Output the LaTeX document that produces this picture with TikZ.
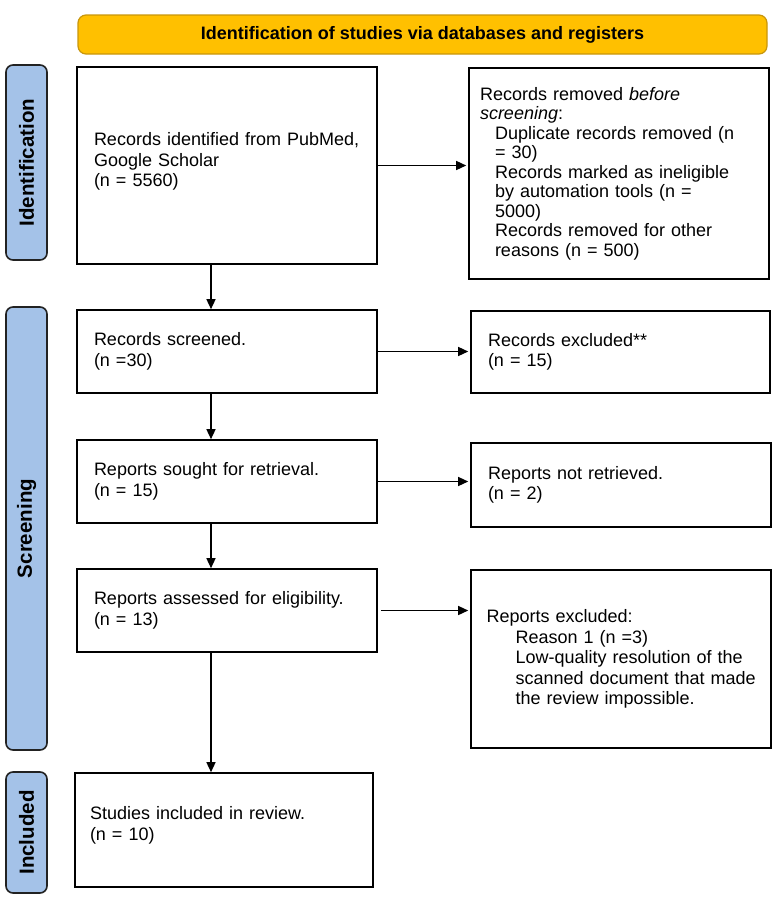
\documentclass[tikz,border=0pt]{standalone}
\usepackage{fontspec}
\setmainfont{Liberation Sans}
\usetikzlibrary{arrows.meta}
\definecolor{bannerfill}{HTML}{FFC000}
\definecolor{bannerdraw}{HTML}{C8960C}
\definecolor{sidefill}{HTML}{A4C2E8}
\definecolor{sidedraw}{HTML}{222222}
\newcommand{\indA}[1]{\mbox{\hspace*{15pt}#1}}
\newcommand{\indB}[1]{\mbox{\hspace*{29pt}#1}}
\begin{document}
\begin{tikzpicture}[x=1pt,y=-1pt,
  box/.style={draw=black, line width=1.6pt, align=left, inner ysep=0pt,
    font=\fontsize{18}{20.5}\selectfont},
  arr/.style={line width=1.4pt, -{Triangle[length=10pt,width=9pt]}},
  side/.style={draw=sidedraw, fill=sidefill, line width=1.6pt, rounded corners=7pt,
    rotate=90, minimum height=41pt, inner sep=0pt,
    font=\bfseries\fontsize{20.5}{22}\selectfont},
  banner/.style={draw=bannerdraw, fill=bannerfill, line width=1.2pt, rounded corners=8pt,
    inner sep=0pt, font=\bfseries\fontsize{18}{20}\selectfont}
]
\useasboundingbox (0,0) rectangle (780,900);

% banner
\node[banner, minimum width=689pt, minimum height=39pt] (banner) at (422.5,34.5)
  {Identification of studies via databases and registers};

% side labels
\node[side, minimum width=195pt] (sideid) at (26.5,162.5) {Identification};
\node[side, minimum width=443pt] (sidesc) at (26.5,528.5) {Screening};
\node[side, minimum width=121pt] (sidein) at (26.5,832.5) {Included};

% left column
\node[box, minimum width=300pt, minimum height=197pt, text width=266pt, inner xsep=17pt] (b1) at (227,165.5)
  {Records identified from PubMed,\\ Google Scholar\\ (n = 5560)\\[-9pt]\mbox{}};
\node[box, minimum width=300pt, minimum height=83pt, text width=266pt, inner xsep=17pt] (b2) at (227,351.5)
  {Records screened.\\ (n =30)};
\node[box, minimum width=300pt, minimum height=83pt, text width=266pt, inner xsep=17pt] (b3) at (227,481.5)
  {Reports sought for retrieval.\\ (n = 15)};
\node[box, minimum width=300pt, minimum height=83pt, text width=266pt, inner xsep=17pt] (b4) at (227,610.5)
  {Reports assessed for eligibility.\\ (n = 13)};
\node[box, minimum width=298pt, minimum height=114pt, text width=268pt, inner xsep=15pt] (b5) at (224,830)
  {Studies included in review.\\ (n = 10)\\[-7pt]\mbox{}};

% right column
\node[box, minimum width=300pt, minimum height=211pt, text width=278pt, inner xsep=11pt,
      font=\fontsize{18}{19.5}\selectfont] (r1) at (619,173.5)
  {Records removed \textit{before}\\
   \textit{screening}:\\
   \indA{Duplicate records removed (n}\\
   \indA{= 30)}\\
   \indA{Records marked as ineligible}\\
   \indA{by automation tools (n =}\\
   \indA{5000)}\\
   \indA{Records removed for other}\\
   \indA{reasons (n = 500)}};
\node[box, minimum width=299pt, minimum height=82pt, text width=265pt, inner xsep=17pt] (r2) at (620.5,352)
  {Records excluded**\\ (n = 15)};
\node[box, minimum width=300pt, minimum height=84pt, text width=266pt, inner xsep=17pt] (r3) at (621,485)
  {Reports not retrieved.\\ (n = 2)};
\node[box, minimum width=300pt, minimum height=178pt, text width=269pt, inner xsep=15.5pt] (r4) at (621,659)
  {Reports excluded:\\
   \indB{Reason 1 (n =3)}\\
   \indB{Low-quality resolution of the}\\
   \indB{scanned document that made}\\
   \indB{the review impossible.}};

% connectors
\coordinate (spine) at (211,0);
\draw[arr] (b1.south -| spine) -- (b2.north -| spine);
\draw[arr] (b2.south -| spine) -- (b3.north -| spine);
\draw[arr] (b3.south -| spine) -- (b4.north -| spine);
\draw[arr] (b4.south -| spine) -- (b5.north -| spine);

\draw[arr, shorten >=2pt] (b1.east) -- (b1.east -| r1.west);
\draw[arr, shorten >=2pt] (b2.east) -- (b2.east -| r2.west);
\draw[arr, shorten >=2pt] (b3.east) -- (b3.east -| r3.west);
\draw[arr, shorten >=2pt, shorten <=3pt] (b4.east) -- (b4.east -| r4.west);
\end{tikzpicture}
\end{document}
